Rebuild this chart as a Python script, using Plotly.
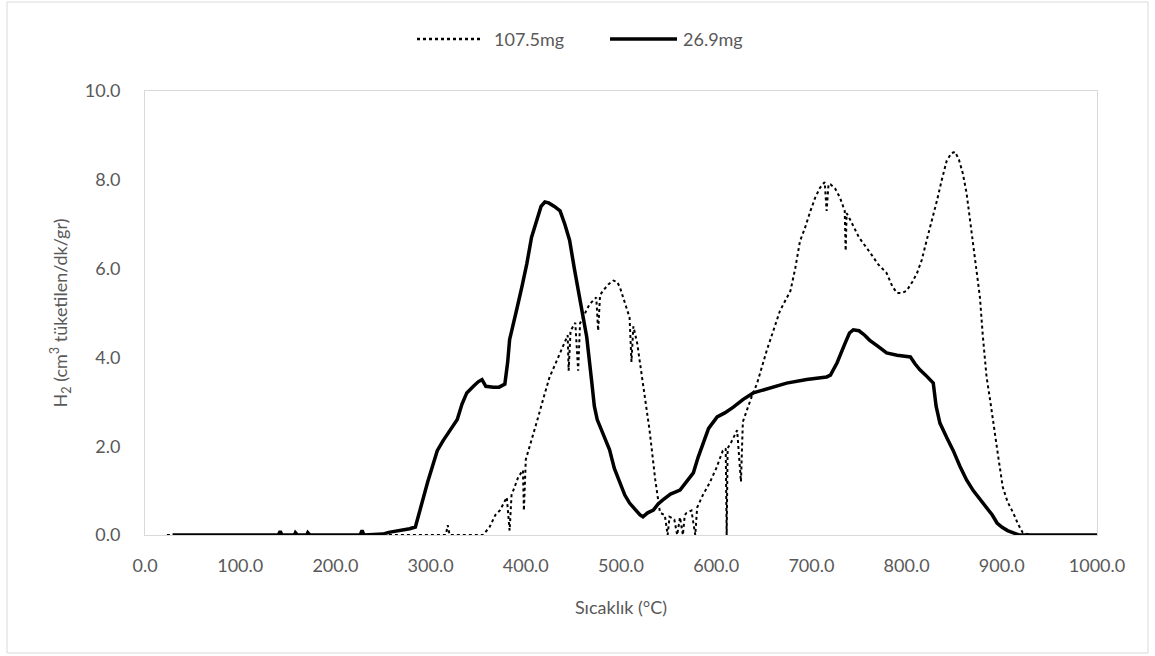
import plotly.graph_objects as go

# H2-TPR profiles: temperature (°C) vs. H2 consumption (cm3/min/g)
temp_1075 = [23, 100, 200, 300, 316, 318, 320, 340, 355, 362, 368, 373, 380, 383, 385, 387, 392, 397, 398, 400,
             404, 412, 418, 425, 430, 436, 444, 445, 447, 452, 455, 457, 462, 467, 474, 476, 478, 481, 487, 492,
             496, 499, 503, 509, 511, 513, 517, 523, 530, 536, 541, 546, 549, 551, 556, 559, 562, 565, 567, 569,
             574, 578, 580, 586, 593, 600, 607, 610, 611, 612, 616, 622, 626, 628, 632, 637, 643, 653, 660, 667,
             678, 683, 688, 693, 699, 704, 709, 714, 716, 718, 720, 725, 730, 735, 736, 737, 741, 750, 762, 770,
             779, 785, 790, 795, 800, 806, 811, 816, 821, 827, 832, 837, 842, 847, 851, 855, 859, 863, 867, 872,
             877, 880, 884, 888, 891, 896, 901, 906, 912, 917, 922, 930, 1000]
h2_1075 = [0, 0, 0, 0, 0, 0.22, 0, 0, 0, 0.18, 0.45, 0.56, 0.85, 0.1, 0.9, 1.01, 1.3, 1.46, 0.55, 1.7,
           1.98, 2.58, 3.04, 3.56, 3.8, 4.1, 4.5, 3.7, 4.6, 4.78, 3.7, 4.77, 5.0, 5.2, 5.35, 4.6, 5.4, 5.5, 5.65, 5.73,
           5.7, 5.57, 5.3, 4.9, 3.9, 4.7, 4.32, 3.42, 2.36, 1.24, 0.5, 0.45, 0, 0.41, 0.35, 0, 0.4, 0, 0.45, 0.5,
           0.55, 0, 0.62, 0.9, 1.17, 1.5, 1.9, 1.95, 0, 1.95, 2.1, 2.36, 1.2, 2.55, 2.8, 3.1, 3.42, 4.15, 4.6, 5.05,
           5.5, 6.0, 6.62, 6.9, 7.3, 7.6, 7.82, 7.95, 7.3, 7.9, 7.9, 7.8, 7.6, 7.3, 6.4, 7.25, 7.09, 6.7, 6.35, 6.1,
           5.9, 5.6, 5.45, 5.45, 5.5, 5.7, 5.9, 6.2, 6.63, 7.1, 7.54, 8.0, 8.42, 8.6, 8.63, 8.45, 8.15, 7.7, 7.03, 6.2,
           5.36, 4.5, 3.56, 3.0, 2.52, 1.8, 1.08, 0.75, 0.5, 0.25, 0.05, 0, 0]

temp_269 = [29, 100, 140, 142, 144, 157, 158, 160, 170, 171, 173, 226, 228, 230, 250, 256, 262, 270, 278, 284,
            288, 292, 297, 302, 307, 313, 320, 328, 333, 338, 345, 350, 354, 358, 366, 372, 378, 381, 383, 387,
            391, 396, 401, 406, 412, 416, 420, 424, 430, 436, 441, 446, 451, 457, 460, 464, 469, 472, 475, 481,
            488, 493, 499, 504, 509, 516, 520, 523, 528, 534, 539, 544, 552, 562, 569, 576, 581, 586, 592, 601,
            609, 618, 628, 639, 655, 674, 695, 716, 720, 727, 735, 740, 744, 750, 756, 761, 770, 779, 790, 804,
            809, 814, 820, 828, 831, 835, 842, 849, 856, 863, 870, 877, 884, 890, 895, 900, 906, 912, 918, 1000]
h2_269 = [0, 0, 0, 0.08, 0, 0, 0.05, 0, 0, 0.05, 0, 0, 0.1, 0, 0.02, 0.06, 0.08, 0.12, 0.14, 0.18,
          0.5, 0.86, 1.2, 1.55, 1.9, 2.12, 2.35, 2.6, 2.95, 3.2, 3.35, 3.45, 3.5, 3.35, 3.33, 3.33, 3.4, 3.9, 4.4, 4.8,
          5.13, 5.6, 6.1, 6.7, 7.15, 7.4, 7.5, 7.48, 7.4, 7.3, 7.0, 6.64, 6.0, 5.3, 4.9, 4.46, 3.5, 2.9, 2.6, 2.3,
          1.92, 1.5, 1.17, 0.9, 0.72, 0.55, 0.45, 0.41, 0.5, 0.56, 0.7, 0.79, 0.92, 1.01, 1.2, 1.4, 1.75, 2.07, 2.4, 2.66,
          2.75, 2.88, 3.05, 3.2, 3.3, 3.42, 3.5, 3.56, 3.6, 3.88, 4.3, 4.55, 4.62, 4.6, 4.5, 4.39, 4.25, 4.1, 4.05, 4.01,
          3.85, 3.72, 3.6, 3.42, 2.9, 2.52, 2.2, 1.9, 1.55, 1.24, 1.0, 0.8, 0.63, 0.45, 0.27, 0.18, 0.1, 0.05, 0, 0]

series_names = ["107.5mg", "26.9mg"]
x_ticks = [0, 100, 200, 300, 400, 500, 600, 700, 800, 900, 1000]
y_ticks = [0, 2, 4, 6, 8, 10]

FONT = "Lato"
FS = 18
GREY = "#595959"
W, H = 1155, 656
L, R, T, B = 145, 58, 91, 121
PW, PH = W - L - R, H - T - B


def px_x(p):
    return (p - L) / PW


def px_y(p):
    return (H - B - p) / PH


fig = go.Figure()
fig.add_trace(go.Scatter(x=temp_1075, y=h2_1075, mode="lines", name=series_names[0],
                         line=dict(color="black", width=2, dash="dot"), showlegend=False))
fig.add_trace(go.Scatter(x=temp_269, y=h2_269, mode="lines", name=series_names[1],
                         line=dict(color="black", width=3.5), showlegend=False))

shapes = [
    # outer chart frame
    dict(type="rect", xref="paper", yref="paper", x0=px_x(7), x1=px_x(1148), y0=px_y(653), y1=px_y(2),
         line=dict(color="#d9d9d9", width=1), layer="below"),
    # legend samples
    dict(type="line", xref="paper", yref="paper", x0=px_x(417), x1=px_x(480), y0=px_y(39), y1=px_y(39),
         line=dict(color="black", width=2.5, dash="dot")),
    dict(type="line", xref="paper", yref="paper", x0=px_x(610), x1=px_x(677), y0=px_y(39), y1=px_y(39),
         line=dict(color="black", width=3.5)),
]
annotations = [
    dict(text=series_names[0], xref="paper", yref="paper", x=px_x(492), y=px_y(39), xanchor="left",
         yanchor="middle", showarrow=False, font=dict(family=FONT, size=FS, color=GREY)),
    dict(text=series_names[1], xref="paper", yref="paper", x=px_x(681), y=px_y(39), xanchor="left",
         yanchor="middle", showarrow=False, font=dict(family=FONT, size=FS, color=GREY)),
]

fig.update_layout(
    width=W, height=H,
    margin=dict(l=L, r=R, t=T, b=B),
    paper_bgcolor="white", plot_bgcolor="white",
    font=dict(family=FONT, size=FS, color=GREY),
    shapes=shapes, annotations=annotations,
    showlegend=False,
)
fig.update_xaxes(
    range=[0, 1000], tickvals=x_ticks, ticktext=[f"{v:.1f}" for v in x_ticks],
    showgrid=False, zeroline=False, showline=True, mirror=True, linecolor="#d9d9d9", linewidth=1,
    ticks="", ticklabelstandoff=14,
    title=dict(text="Sıcaklık (°C)", standoff=26, font=dict(family=FONT, size=FS, color=GREY)),
)
fig.update_yaxes(
    range=[0, 10], tickvals=y_ticks, ticktext=[f"{v:.1f}" for v in y_ticks],
    showgrid=False, zeroline=False, showline=True, mirror=True, linecolor="#d9d9d9", linewidth=1,
    ticks="", ticklabelstandoff=20,
    title=dict(text="H<sub>2</sub> (cm<sup>3</sup> tüketilen/dk/gr)", standoff=12,
               font=dict(family=FONT, size=FS, color=GREY)),
)

fig.write_html("out.html", config={"displayModeBar": False})
